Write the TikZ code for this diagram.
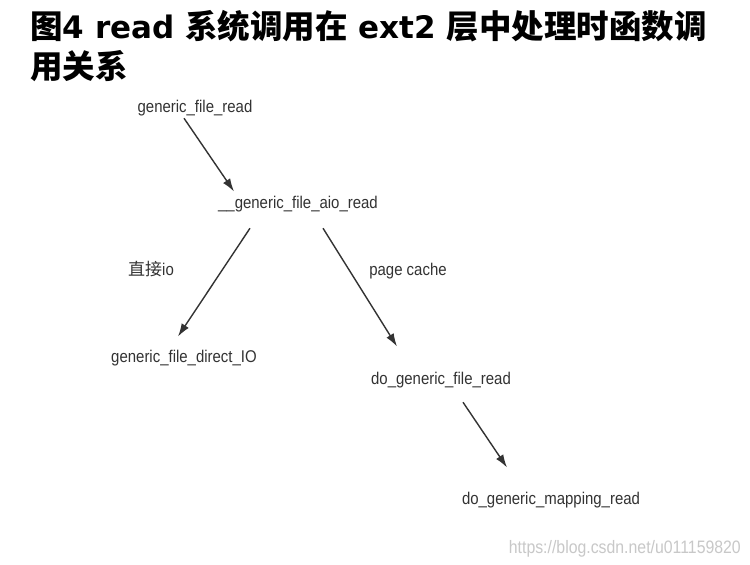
\documentclass[tikz,border=0pt]{standalone}
\usepackage{fontspec}
\usepackage{tikz}
\usetikzlibrary{arrows.meta}
\newfontfamily\cjk{Noto Sans CJK SC}
\newfontfamily\ttlfont{DejaVu Sans}
\newfontfamily\lblfont[FakeStretch=0.88]{Liberation Sans}
\newcommand{\zh}[1]{{\cjk\fontsize{32.5bp}{32.5bp}\selectfont #1}}
\definecolor{inkgray}{HTML}{333333}
\definecolor{markgray}{HTML}{C8C8C8}

\tikzset{
    fname/.style={inner sep=0pt, anchor=base, text=inkgray, font=\lblfont\fontsize{17bp}{17bp}\selectfont},
    call/.style={draw=inkgray, line width=1.4bp, -{Latex[length=13bp,width=8.5bp]}}
}

\begin{document}
\begin{tikzpicture}[x=1bp, y=-1bp]
        \useasboundingbox[fill=white] (0,0) rectangle (750,565);

        % --- Title ---
        \node[anchor=base west, inner sep=0pt, font=\ttlfont\bfseries\fontsize{31bp}{31bp}\selectfont] (title1) at (30,39)
            {\zh{图}4 read \zh{系统调用在} ext2 \zh{层中处理时函数调}};
        \node[anchor=base west, inner sep=0pt, font=\ttlfont\bfseries\fontsize{31bp}{31bp}\selectfont] (title2) at (30,79)
            {\zh{用关系}};

        % --- Functions ---
        \node[fname] (read)    at (195,113) {generic\_file\_read};
        \node[fname] (aio)     at (298,209) {\_\_generic\_file\_aio\_read};
        \node[fname] (direct)  at (184,362) {generic\_file\_direct\_IO};
        \node[fname] (dofile)  at (441,384) {do\_generic\_file\_read};
        \node[fname] (mapping) at (551,504) {do\_generic\_mapping\_read};

        % --- Branch labels ---
        \node[fname] (lbldirect) at (151,275) {{\cjk 直接}io};
        \node[fname] (lblcache)  at (408,275) {page cache};

        % --- Calls ---
        \draw[call] ([xshift=-11bp,yshift=-1.5bp]read.south) -- ([xshift=-64bp,yshift=5bp]aio.north);
        \draw[call] ([xshift=-48bp,yshift=-15.5bp]aio.south) -- ([xshift=-6bp,yshift=13bp]direct.north);
        \draw[call] ([xshift=25bp,yshift=-15.5bp]aio.south) -- ([xshift=-44bp,yshift=25bp]dofile.north);
        \draw[call] ([xshift=22bp,yshift=-14.5bp]dofile.south) -- ([xshift=-44bp,yshift=24bp]mapping.north);

        % watermark
        \node[fname, anchor=base east, text=markgray, font=\lblfont\fontsize{18bp}{18bp}\selectfont] (mark) at (741,553)
            {https://blog.csdn.net/u011159820};
    \end{tikzpicture}
\end{document}
